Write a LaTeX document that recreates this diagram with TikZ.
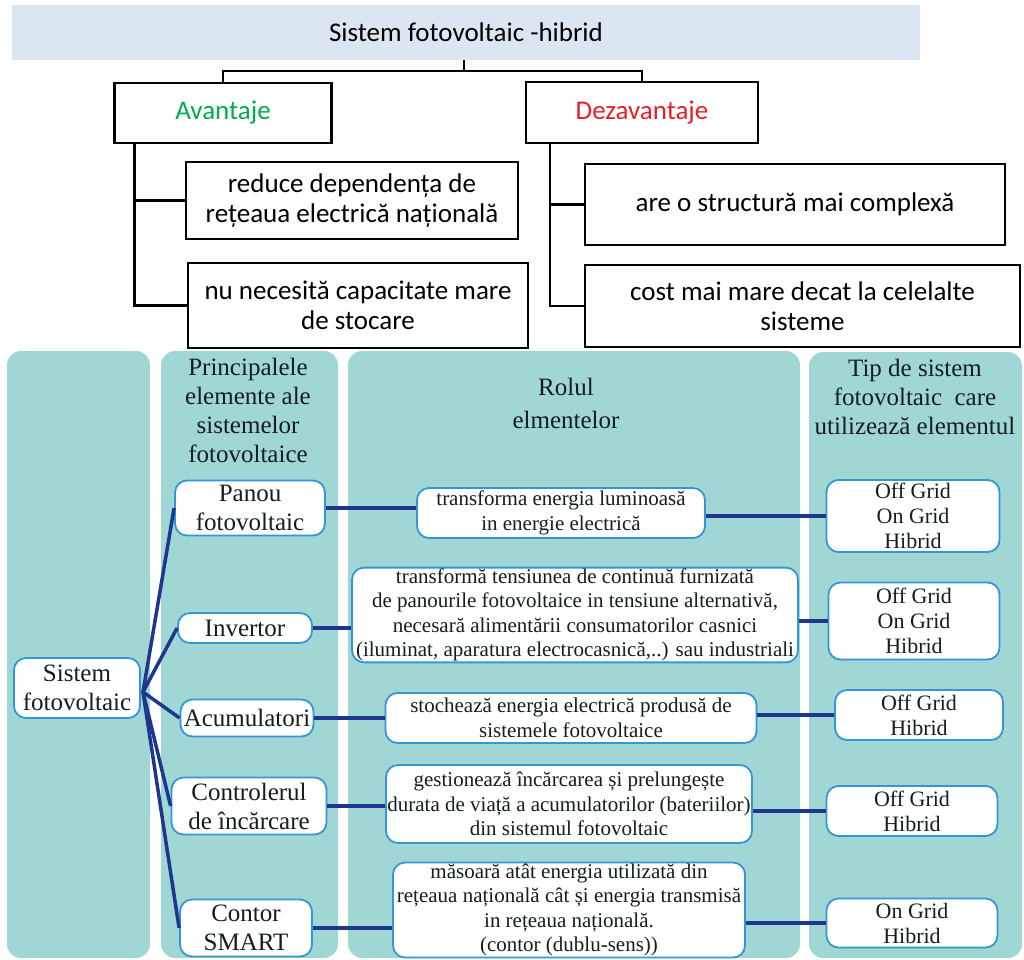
\documentclass[tikz,border=0pt]{standalone}
\usepackage{fontspec}
\setmainfont{Liberation Serif}
\newfontfamily\calfont{Carlito}
\usepackage{xcolor}
\usepackage{tikz}

\definecolor{titlebg}{RGB}{220,230,242}
\definecolor{colbg}{RGB}{160,215,213}
\definecolor{nodeblue}{RGB}{52,150,215}
\definecolor{navy}{RGB}{30,55,140}
\definecolor{avgreen}{RGB}{0,170,80}
\definecolor{dezred}{RGB}{232,30,40}
\definecolor{headtxt}{RGB}{20,30,30}

\tikzset{
	topbox/.style={draw=black, line width=2.5pt, fill=white, align=center, inner sep=2pt, font=\calfont\fontsize{27}{30}\selectfont},
	topwire/.style={line width=2.5pt},
	column/.style={fill=colbg, rounded corners=14pt},
	colhead/.style={align=center, text=headtxt, font=\fontsize{25}{29}\selectfont},
	elem/.style={draw=nodeblue, line width=1.8pt, fill=white, rounded corners=12pt, align=center, inner sep=1pt, text=headtxt, font=\fontsize{25}{29}\selectfont},
	role/.style={elem, font=\fontsize{21}{24.5}\selectfont},
	kind/.style={elem, font=\fontsize{22}{25}\selectfont},
	link/.style={draw=navy, line width=3.5pt},
}

\begin{document}
\begin{tikzpicture}[x=1pt, y=-1pt]
	\useasboundingbox (0,0) rectangle (1024,959);
	% Upper part: advantages and disadvantages
	\node[fill=titlebg, minimum width=908pt, minimum height=55pt, font=\calfont\fontsize{27}{30}\selectfont] (title) at (466, 32.5){Sistem fotovoltaic -hibrid};
	\node[topbox, minimum width=217pt, minimum height=60pt, text=avgreen] (avt) at (223, 113){Avantaje};
	\node[topbox, minimum width=232pt, minimum height=61pt, text=dezred] (dez) at (642, 112.5){Dezavantaje};
	\node[topbox, minimum width=332pt, minimum height=77pt] (adv1) at (352, 200.5){reduce dependența de\\rețeaua electrică națională};
	\node[topbox, minimum width=340pt, minimum height=85pt] (adv2) at (358, 305.5){nu necesită capacitate mare\\de stocare};
	\node[topbox, minimum width=420pt, minimum height=81pt] (dis1) at (795, 204.5){are o structură mai complexă};
	\node[topbox, minimum width=435pt, minimum height=82pt] (dis2) at (802.5, 306){cost mai mare decat la celelalte\\sisteme};
	\coordinate (fork) at (464, 71);
	\draw[topwire] (title.south -| fork) -- (fork) -| (avt.north);
	\draw[topwire] (fork) -| (dez.north);
	\draw[topwire] ([xshift=21pt]avt.south west) |- (adv1.west);
	\draw[topwire] ([xshift=21pt]avt.south west) |- (adv2.west);
	\draw[topwire] ([xshift=25pt]dez.south west) |- (dis1.west);
	\draw[topwire] ([xshift=25pt]dez.south west) |- (dis2.west);
	% Lower part: columns
	\fill[column] (7, 351) rectangle (150, 958);
	\fill[column] (161, 351) rectangle (338, 958);
	\fill[column] (348, 351) rectangle (800, 958);
	\fill[column] (809, 352) rectangle (1022, 958);
	\node[colhead] (h2) at (248, 410){Principalele\\elemente ale\\sistemelor\\fotovoltaice};
	\node[colhead, font=\fontsize{25}{33}\selectfont] (h3) at (566, 403){Rolul\\elmentelor};
	\node[colhead] (h4) at (915, 397){Tip de sistem\\fotovoltaic~ care\\utilizează elementul};
	% Elements
	\node[elem, minimum width=126pt, minimum height=60pt] (sys) at (77, 688){Sistem\\fotovoltaic};
	\node[elem, minimum width=150pt, minimum height=55pt] (p1) at (250, 508){Panou\\fotovoltaic};
	\node[elem, minimum width=134pt, minimum height=30pt] (p2) at (245, 628){Invertor};
	\node[elem, minimum width=133pt, minimum height=37pt] (p3) at (247, 718){Acumulatori};
	\node[elem, minimum width=155pt, minimum height=57pt] (p4) at (249, 806){Controlerul\\de încărcare};
	\node[elem, minimum width=132pt, minimum height=57pt] (p5) at (246, 928){Contor\\SMART};
	% Roles
	\node[role, minimum width=288pt, minimum height=50pt] (r1) at (561, 513){transforma energia luminoasă\\in energie electrică};
	\node[role, minimum width=446pt, minimum height=94pt] (r2) at (575, 615){transformă tensiunea de continuă furnizată\\de panourile fotovoltaice in tensiune alternativă,\\necesară alimentării consumatorilor casnici\\(iluminat, aparatura electrocasnică,..) sau industriali};
	\node[role, minimum width=371pt, minimum height=50pt] (r3) at (571, 718){stochează energia electrică produsă de\\sistemele fotovoltaice};
	\node[role, minimum width=366pt, minimum height=78pt] (r4) at (569, 804){gestionează încărcarea și prelungește\\durata de viață a acumulatorilor (bateriilor)\\din sistemul fotovoltaic};
	\node[role, minimum width=352pt, minimum height=95pt] (r5) at (569, 910){măsoară atât energia utilizată din\\rețeaua națională cât și energia transmisă\\in rețeaua națională.\\(contor (dublu-sens))};
	% System types
	\node[kind, minimum width=173pt, minimum height=72pt] (t1) at (913, 516){Off Grid\\On Grid\\Hibrid};
	\node[kind, minimum width=171pt, minimum height=77pt] (t2) at (914, 621){Off Grid\\On Grid\\Hibrid};
	\node[kind, minimum width=168pt, minimum height=50pt] (t3) at (919, 715){Off Grid\\Hibrid};
	\node[kind, minimum width=171pt, minimum height=50pt] (t4) at (912, 811){Off Grid\\Hibrid};
	\node[kind, minimum width=171pt, minimum height=49pt] (t5) at (912, 923){On Grid\\Hibrid};
	% Links
	\coordinate (fan) at (143, 692);
	\foreach \n in {p1, p2, p3, p4, p5}
		\draw[link] (fan) -- (\n.west);
	\foreach \i in {1, ..., 5}{
		\draw[link] (p\i.east) -- (r\i.west |- p\i.east);
		\draw[link] (r\i.east |- t\i.west) -- (t\i.west);
	}
\end{tikzpicture}
\end{document}
